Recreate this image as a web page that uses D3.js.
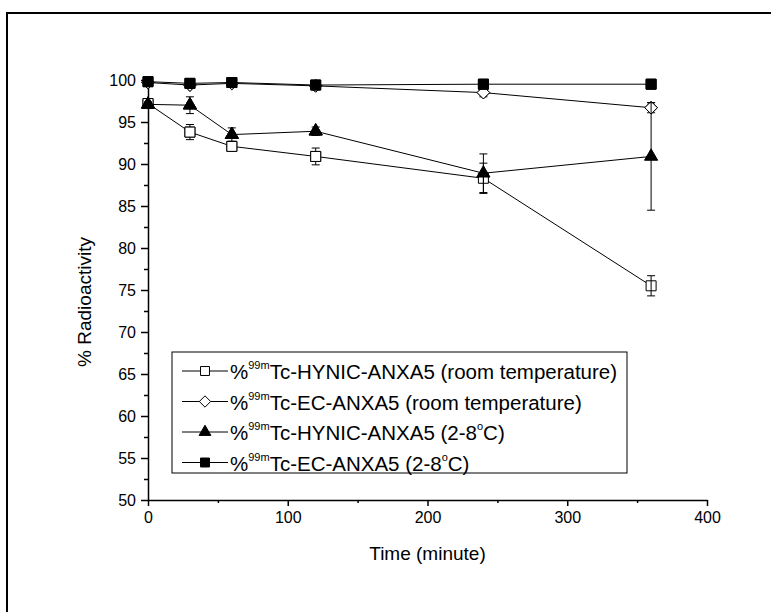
<!DOCTYPE html>
<html>
<head>
<meta charset="utf-8">
<script src="https://cdn.jsdelivr.net/npm/d3@7"></script>
<style>
  body { margin: 0; background: #fff; }
  svg { display: block; font-family: Arial, "Liberation Sans", sans-serif; }
  .axis path, .axis line { stroke: #000; stroke-width: 1.5; }
  .axis text { font-size: 16px; fill: #000; }
</style>
</head>
<body>
<div id="chart"></div>
<script>
// sampling times (minute)
var times = [0, 30, 60, 120, 240, 360];

// % radioactivity, mean and error
var hynicRoom = [97.2, 93.8, 92.1, 90.9, 88.3, 75.5];
var hynicRoomErr = [0.3, 0.9, 0.4, 1.0, 1.8, 1.2];
var ecRoom = [99.7, 99.4, 99.6, 99.3, 98.5, 96.7];
var ecRoomErr = [0.3, 0.3, 0.3, 0.3, 0.5, 0.6];
var hynicCold = [97.1, 97.0, 93.5, 93.9, 88.9, 90.9];
var hynicColdErr = [0.3, 1.0, 0.8, 0.5, 2.3, 6.4];
var ecCold = [99.8, 99.6, 99.7, 99.4, 99.5, 99.5];
var ecColdErr = [0.2, 0.2, 0.2, 0.2, 0.2, 0.2];

var xTicks = [0, 100, 200, 300, 400];
var yTicks = [50, 55, 60, 65, 70, 75, 80, 85, 90, 95, 100];

var seriesNames = ["Tc-HYNIC-ANXA5 (room temperature)", "Tc-EC-ANXA5 (room temperature)",
                   "Tc-HYNIC-ANXA5 (2-8", "Tc-EC-ANXA5 (2-8"];

var series = [
  {name: seriesNames[0], y: hynicRoom, err: hynicRoomErr, shape: "square", fill: "#fff", deg: false},
  {name: seriesNames[1], y: ecRoom, err: ecRoomErr, shape: "diamond", fill: "#fff", deg: false},
  {name: seriesNames[2], y: hynicCold, err: hynicColdErr, shape: "triangle", fill: "#000", deg: true},
  {name: seriesNames[3], y: ecCold, err: ecColdErr, shape: "square", fill: "#000", deg: true}
];

var W = 771, H = 612;
var margin = {top: 80, left: 148, right: 64, bottom: 112};
var width = W - margin.left - margin.right,
    height = H - margin.top - margin.bottom;

var svg = d3.select("#chart").append("svg")
    .attr("width", W)
    .attr("height", H);

// outer frame
svg.append("rect")
    .attr("x", 7).attr("y", 13)
    .attr("width", 900).attr("height", 800)
    .attr("fill", "none").attr("stroke", "#000").attr("stroke-width", 2);

var g = svg.append("g")
    .attr("transform", "translate(" + margin.left + "," + margin.top + ")");

var x = d3.scaleLinear().domain([0, 400]).range([0, width]);
var y = d3.scaleLinear().domain([50, 100]).range([height, 0]);

// minor ticks
g.append("g")
    .attr("class", "axis")
    .attr("transform", "translate(0," + height + ")")
    .call(d3.axisBottom(x).tickValues([50, 150, 250, 350]).tickSize(3).tickFormat(""))
    .select(".domain").remove();
g.append("g")
    .attr("class", "axis")
    .call(d3.axisLeft(y).tickValues(d3.range(52.5, 100, 5)).tickSize(4).tickFormat(""))
    .select(".domain").remove();

// main axes
g.append("g")
    .attr("class", "axis")
    .attr("transform", "translate(0," + height + ")")
    .call(d3.axisBottom(x).tickValues(xTicks).tickSizeInner(6).tickSizeOuter(0).tickPadding(6));
g.append("g")
    .attr("class", "axis")
    .call(d3.axisLeft(y).tickValues(yTicks).tickSizeInner(7).tickSizeOuter(0).tickPadding(5));

// diamond drawn as a square turned 45 degrees
var squareDiamond = {
  draw: function(ctx, size) {
    var r = Math.sqrt(size / 2);
    ctx.moveTo(0, -r);
    ctx.lineTo(r, 0);
    ctx.lineTo(0, r);
    ctx.lineTo(-r, 0);
    ctx.closePath();
  }
};

var symbolType = {square: d3.symbolSquare, diamond: squareDiamond, triangle: d3.symbolTriangle};
var symbolSize = {square: 100, diamond: 80, triangle: 75};

var line = d3.line()
    .x(function(d) { return x(d.t); })
    .y(function(d) { return y(d.v); });

series.forEach(function(s) {
  var pts = times.map(function(t, i) { return {t: t, v: s.y[i], e: s.err[i]}; });

  g.append("path")
      .datum(pts)
      .attr("d", line)
      .attr("fill", "none")
      .attr("stroke", "#000")
      .attr("stroke-width", 1);

  var sym = d3.symbol().type(symbolType[s.shape]).size(symbolSize[s.shape]);
  g.selectAll(null)
      .data(pts)
    .enter().append("path")
      .attr("d", sym)
      .attr("transform", function(d) { return "translate(" + x(d.t) + "," + y(d.v) + ")"; })
      .attr("fill", s.fill)
      .attr("stroke", "#000")
      .attr("stroke-width", 1);

  // error bars
  var eb = g.selectAll(null)
      .data(pts)
    .enter().append("g")
      .attr("stroke", "#000")
      .attr("stroke-width", 1);
  eb.append("line")
      .attr("x1", function(d) { return x(d.t); })
      .attr("x2", function(d) { return x(d.t); })
      .attr("y1", function(d) { return y(d.v + d.e); })
      .attr("y2", function(d) { return y(d.v - d.e); });
  eb.append("line")
      .attr("x1", function(d) { return x(d.t) - 4; })
      .attr("x2", function(d) { return x(d.t) + 4; })
      .attr("y1", function(d) { return y(d.v + d.e); })
      .attr("y2", function(d) { return y(d.v + d.e); });
  eb.append("line")
      .attr("x1", function(d) { return x(d.t) - 4; })
      .attr("x2", function(d) { return x(d.t) + 4; })
      .attr("y1", function(d) { return y(d.v - d.e); })
      .attr("y2", function(d) { return y(d.v - d.e); });

  // redraw marker body over the bar stem
  g.selectAll(null)
      .data(pts.filter(function(d) { return d.e < 1.2; }))
    .enter().append("path")
      .attr("d", sym)
      .attr("transform", function(d) { return "translate(" + x(d.t) + "," + y(d.v) + ")"; })
      .attr("fill", s.fill)
      .attr("stroke", "#000")
      .attr("stroke-width", 1);
});

// axis titles
svg.append("text")
    .attr("x", margin.left + width / 2)
    .attr("y", 560)
    .attr("text-anchor", "middle")
    .attr("font-size", 19)
    .text("Time (minute)");

svg.append("text")
    .attr("transform", "translate(91,302) rotate(-90)")
    .attr("text-anchor", "middle")
    .attr("font-size", 19)
    .text("% Radioactivity");

// legend
var legend = svg.append("g").attr("transform", "translate(172,352)");
legend.append("rect")
    .attr("width", 455).attr("height", 121)
    .attr("fill", "#fff").attr("stroke", "#000").attr("stroke-width", 1);

series.forEach(function(s, i) {
  var row = legend.append("g").attr("transform", "translate(0," + (19 + i * 30.5) + ")");
  row.append("line")
      .attr("x1", 10).attr("x2", 56)
      .attr("stroke", "#000").attr("stroke-width", 1);
  row.append("path")
      .attr("d", d3.symbol().type(symbolType[s.shape]).size(symbolSize[s.shape] * 0.8))
      .attr("transform", "translate(33,0)")
      .attr("fill", s.fill).attr("stroke", "#000");
  var t = row.append("text")
      .attr("x", 58).attr("y", 8)
      .attr("font-size", 20.5);
  t.append("tspan").text("%");
  t.append("tspan").attr("font-size", 11).attr("dy", -10).text("99m");
  t.append("tspan").attr("dy", 10).text(s.name);
  if (s.deg) {
    t.append("tspan").attr("font-size", 11).attr("dy", -10).text("o");
    t.append("tspan").attr("dy", 10).text("C)");
  }
});
</script>
</body>
</html>
